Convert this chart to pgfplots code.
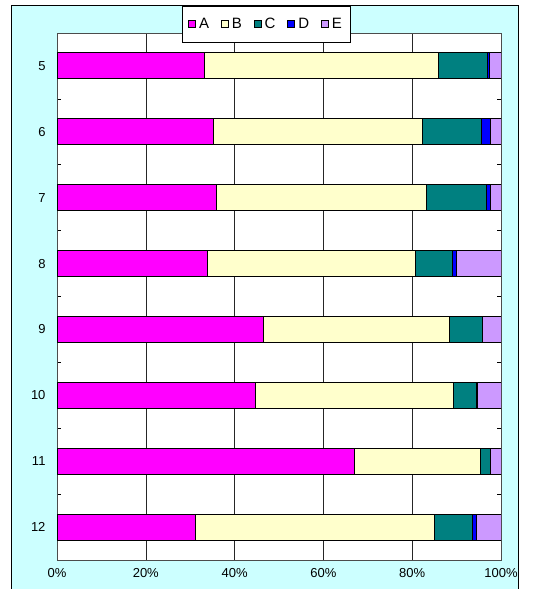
\documentclass[border=0pt]{standalone}
\usepackage{pgfplots}
\pgfplotsset{compat=1.18}
\usepackage{fontspec}
\setmainfont{Liberation Sans}
\definecolor{cA}{HTML}{FF00FF}
\definecolor{cB}{HTML}{FFFFCC}
\definecolor{cC}{HTML}{008080}
\definecolor{cD}{HTML}{0000FF}
\definecolor{cE}{HTML}{CC99FF}
\definecolor{bgc}{HTML}{CCFFFF}
\pgfplotsset{sq/.style={legend image code/.code={\draw[##1,line width=0.8bp] (0bp,-3.5bp) rectangle (7bp,3.5bp);}}}
\begin{document}
\begin{tikzpicture}
\useasboundingbox (0bp,0bp) rectangle (550bp,589bp);
\fill[white] (0bp,0bp) rectangle (550bp,589bp);
\begin{scope}
\clip (0bp,0bp) rectangle (550bp,589bp);
\filldraw[fill=bgc,draw=black,line width=0.8bp] (11bp,-10bp) rectangle (518bp,584bp);
\end{scope}
\begin{axis}[at={(57bp,29bp)}, anchor=south west,
  width=444bp, height=527bp, scale only axis,
  xbar stacked, bar width=26bp,
  xmin=0, xmax=100, ymin=4.5, ymax=12.5, y dir=reverse,
  axis background/.style={fill=white},
  axis line style={black!70, line width=0.9bp},
  ytick={5,...,12},
  minor ytick={5.5,6.5,...,11.5},
  major tick length=0pt, minor tick length=4bp, tick align=inside,
  tick style={black, line width=0.6bp},
  xtick={0,20,...,100},
  xticklabel={\pgfmathprintnumber{\tick}\%},
  /pgf/number format/assume math mode=true,
  xmajorgrids, grid style={black!85, line width=0.6bp},
  ticklabel style={font=\fontsize{13bp}{15bp}\selectfont},
  xticklabel style={yshift=-5bp},
  yticklabel style={xshift=-8bp},
  every axis plot/.append style={draw=black, line width=0.9bp},
  legend style={at={(0.2815,1.0512)}, anchor=north west, draw=black, fill=white,
    line width=0.6bp, font=\fontsize{15bp}{17bp}\selectfont,
    inner xsep=6bp, inner ysep=10bp,
    /tikz/every odd column/.append style={column sep=1bp},
    /tikz/every even column/.append style={column sep=10bp}},
  legend columns=5,
]
\addplot[fill=cA, sq] coordinates {(33.1,5) (35.3,6) (36.0,7) (33.8,8) (46.4,9) (44.8,10) (67.0,11) (31.2,12)};
\addplot[fill=cB, sq] coordinates {(52.8,5) (46.9,6) (47.3,7) (47.0,8) (42.0,9) (44.5,10) (28.4,11) (53.7,12)};
\addplot[fill=cC, sq] coordinates {(11.1,5) (13.5,6) (13.5,7) (8.2,8) (7.4,9) (5.1,10) (2.3,11) (8.6,12)};
\addplot[fill=cD, sq] coordinates {(0.5,5) (2.0,6) (0.9,7) (1.0,8) (0,9) (0.4,10) (0,11) (0.9,12)};
\addplot[fill=cE, sq] coordinates {(2.5,5) (2.3,6) (2.3,7) (10.0,8) (4.2,9) (5.2,10) (2.3,11) (5.6,12)};
\legend{A,B,C,D,E}
\end{axis}
\end{tikzpicture}
\end{document}
